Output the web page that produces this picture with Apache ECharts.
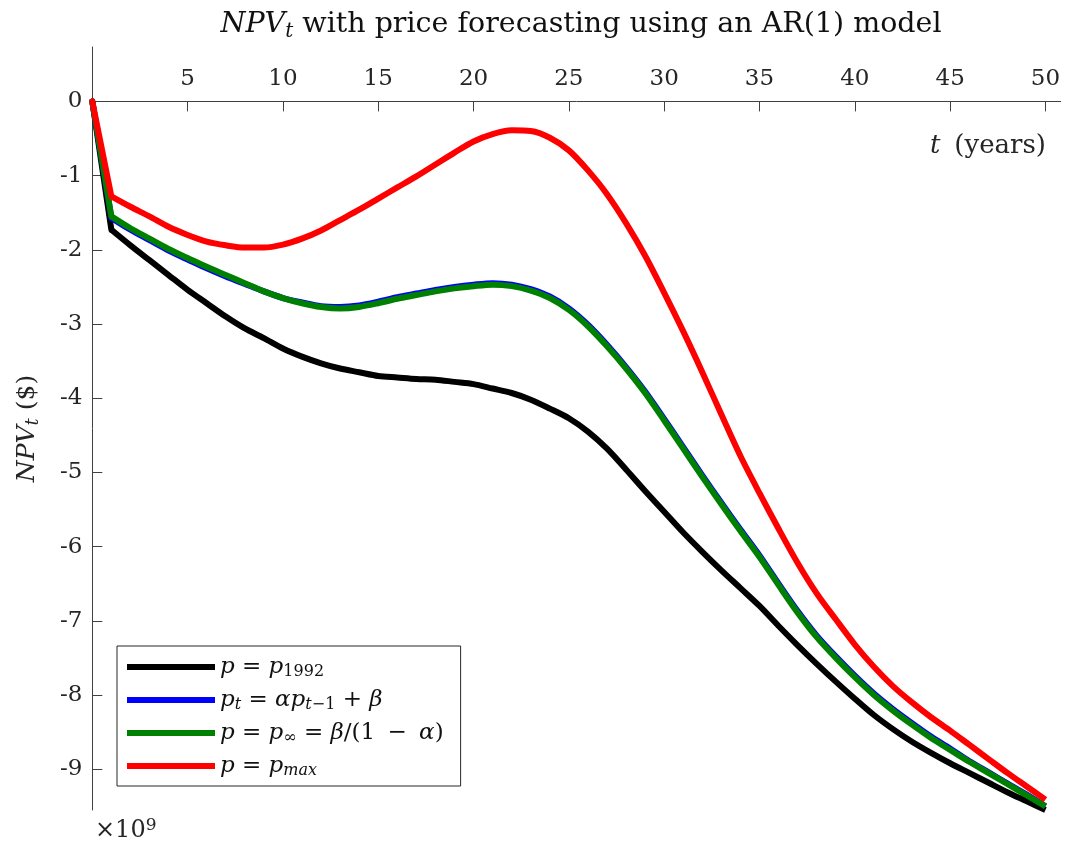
<!DOCTYPE html>
<html>
<head>
<meta charset="utf-8">
<script src="https://cdn.jsdelivr.net/npm/echarts@6/dist/echarts.min.js"></script>
<style>
  html, body { margin: 0; padding: 0; background: #ffffff; }
  #chart { width: 1066px; height: 841px; }
</style>
</head>
<body>
<div id="chart"></div>
<script>
// Time axis (years) and NPV_t values in units of 10^9 $
const years = [0, 1, 2, 3, 4, 5, 6, 7, 8, 9, 10, 11, 12, 13, 14, 15, 16, 17, 18, 19, 20,
  21, 22, 23, 24, 25, 26, 27, 28, 29, 30, 31, 32, 33, 34, 35, 36, 37, 38, 39, 40,
  41, 42, 43, 44, 45, 46, 47, 48, 49, 50];

// p = p_1992 (constant price)
const npvP1992 = [0, -1.73, -1.94, -2.14, -2.34, -2.54, -2.72, -2.90, -3.06, -3.19, -3.33,
  -3.44, -3.53, -3.60, -3.65, -3.70, -3.72, -3.74, -3.75, -3.78, -3.81,
  -3.87, -3.93, -4.02, -4.14, -4.27, -4.45, -4.68, -4.96, -5.25, -5.53,
  -5.81, -6.07, -6.32, -6.56, -6.80, -7.07, -7.33, -7.58, -7.82, -8.05,
  -8.27, -8.46, -8.63, -8.78, -8.92, -9.05, -9.18, -9.31, -9.43, -9.55];

// p_t = alpha p_{t-1} + beta (AR(1) forecast)
const npvAR1 = [0, -1.57, -1.73, -1.87, -2.01, -2.13, -2.25, -2.36, -2.46, -2.56, -2.65,
  -2.71, -2.76, -2.77, -2.75, -2.70, -2.64, -2.59, -2.54, -2.50, -2.47,
  -2.45, -2.47, -2.53, -2.63, -2.79, -3.01, -3.28, -3.58, -3.91, -4.28,
  -4.66, -5.04, -5.41, -5.77, -6.12, -6.50, -6.87, -7.20, -7.48, -7.74,
  -7.98, -8.19, -8.38, -8.56, -8.72, -8.89, -9.04, -9.19, -9.34, -9.50];

// p = p_inf = beta / (1 - alpha) (long-run price)
const npvSteady = [0, -1.55, -1.71, -1.85, -1.99, -2.11, -2.23, -2.34, -2.45, -2.56, -2.65,
  -2.72, -2.77, -2.79, -2.77, -2.72, -2.66, -2.61, -2.56, -2.52, -2.49,
  -2.47, -2.49, -2.55, -2.65, -2.81, -3.03, -3.30, -3.60, -3.93, -4.30,
  -4.68, -5.06, -5.43, -5.79, -6.14, -6.52, -6.89, -7.22, -7.50, -7.76,
  -8.00, -8.21, -8.40, -8.58, -8.74, -8.90, -9.05, -9.20, -9.35, -9.50];

// p = p_max (maximum price)
const npvMax = [0, -1.28, -1.42, -1.55, -1.69, -1.80, -1.89, -1.94, -1.97, -1.97, -1.93,
  -1.85, -1.74, -1.60, -1.46, -1.31, -1.16, -1.01, -0.85, -0.69, -0.54,
  -0.44, -0.39, -0.40, -0.49, -0.66, -0.93, -1.25, -1.64, -2.08, -2.58,
  -3.10, -3.65, -4.22, -4.78, -5.28, -5.76, -6.22, -6.63, -6.98, -7.32,
  -7.62, -7.88, -8.10, -8.30, -8.48, -8.67, -8.86, -9.05, -9.23, -9.41];

const xTicks = [5, 10, 15, 20, 25, 30, 35, 40, 45, 50];
const yTicks = [0, -1, -2, -3, -4, -5, -6, -7, -8, -9];

const seriesNames = ['p = p1992', 'pt = αpt−1 + β', 'p = p∞ = β/(1 − α)', 'p = pmax'];
const seriesColors = ['#000000', '#0000ff', '#008000', '#ff0000'];
const seriesValues = [npvP1992, npvAR1, npvSteady, npvMax];

// legend entries typeset with italic variables and subscripts
const legendLabels = {
  'p = p1992': '{i|p} = {i|p}{s|1992}',
  'pt = αpt−1 + β': '{i|p}{si|t} = {i|αp}{si|t}{s|−1} + {i|β}',
  'p = p∞ = β/(1 − α)': '{i|p} = {i|p}{s|∞} = {i|β}/(1 {o|−} {i|α})',
  'p = pmax': '{i|p} = {i|p}{si|max}'
};

const FONT = '"DejaVu Serif", "Liberation Serif", serif';
const INK = '#262626';
const AXIS = '#404040';

const chart = echarts.init(document.getElementById('chart'), null, { renderer: 'canvas' });

// Each curve: the first-year drop as a straight segment, then the smooth remainder
const series = [];
seriesValues.forEach((vals, k) => {
  const pts = years.map((t, i) => [t, vals[i]]);
  series.push({
    name: seriesNames[k] + ' (t0)',
    type: 'line',
    data: pts.slice(0, 2),
    symbol: 'none',
    smooth: false,
    color: seriesColors[k],
    lineStyle: { width: 6, color: seriesColors[k], cap: 'round' },
    z: 2 + k,
    silent: true
  });
  series.push({
    name: seriesNames[k],
    type: 'line',
    data: pts.slice(1),
    symbol: 'none',
    smooth: 0.3,
    color: seriesColors[k],
    lineStyle: { width: 6, color: seriesColors[k], join: 'round' },
    z: 2 + k
  });
});

chart.setOption({
  backgroundColor: '#ffffff',
  animation: false,
  title: [
    {
      text: '{i|NPV}{s|t} with price forecasting using an AR(1) model',
      left: 576, top: 3, textAlign: 'center',
      textStyle: {
        fontFamily: FONT, fontSize: 28.5, fontWeight: 'normal', color: '#111', lineHeight: 34,
        rich: {
          i: { fontFamily: FONT, fontSize: 28.5, fontStyle: 'italic', color: '#111', lineHeight: 34 },
          s: { fontFamily: FONT, fontSize: 20, fontStyle: 'italic', color: '#111', lineHeight: 16, verticalAlign: 'bottom' }
        }
      }
    },
    {
      text: '{i|t}(years)',
      right: 15, top: 126,
      textStyle: {
        fontFamily: FONT, fontSize: 26, fontWeight: 'normal', color: INK, lineHeight: 30,
        rich: { i: { fontFamily: FONT, fontSize: 26, fontStyle: 'italic', color: INK, lineHeight: 30, padding: [0, 14, 0, 0] } }
      }
    },
    {
      text: '×10{sup|9}',
      left: 90, top: 812,
      textStyle: {
        fontFamily: FONT, fontSize: 24, fontWeight: 'normal', color: INK, lineHeight: 28,
        rich: { sup: { fontFamily: FONT, fontSize: 17, color: INK, lineHeight: 16, verticalAlign: 'top' } }
      }
    }
  ],
  grid: { left: 92.3, top: 47, width: 968.4, height: 763, containLabel: false },
  xAxis: {
    type: 'value',
    position: 'top',
    offset: -54.4,
    min: 0, max: 50.8, interval: 5,
    axisLine: { show: true, onZero: false, lineStyle: { color: AXIS, width: 1 } },
    axisTick: { show: true, inside: true, length: 10, customValues: xTicks, lineStyle: { color: AXIS } },
    axisLabel: {
      customValues: xTicks, margin: 11,
      fontFamily: FONT, fontSize: 23, color: INK
    },
    splitLine: { show: false }
  },
  yAxis: {
    type: 'value',
    min: -9.55, max: 0.733,
    axisLine: { show: true, onZero: false, lineStyle: { color: AXIS, width: 1 } },
    axisTick: { show: true, inside: true, length: 10, customValues: yTicks, lineStyle: { color: AXIS } },
    axisLabel: {
      customValues: yTicks, margin: 10,
      fontFamily: FONT, fontSize: 23, color: INK,
      formatter: v => String(v)
    },
    splitLine: { show: false },
    name: '{i|NPV}{s|t} ($)',
    nameLocation: 'middle',
    nameGap: 50,
    nameRotate: 90,
    nameTextStyle: {
      fontFamily: FONT, fontSize: 25, color: INK, lineHeight: 30,
      rich: {
        i: { fontFamily: FONT, fontSize: 25, fontStyle: 'italic', color: INK, lineHeight: 30 },
        s: { fontFamily: FONT, fontSize: 18, fontStyle: 'italic', color: INK, lineHeight: 14, verticalAlign: 'bottom' }
      }
    }
  },
  legend: {
    orient: 'vertical',
    left: 117, top: 646,
    icon: 'rect',
    itemWidth: 88, itemHeight: 6, itemGap: 7,
    padding: [8, 17, 7, 10],
    borderColor: INK, borderWidth: 1, borderRadius: 0,
    backgroundColor: '#ffffff',
    data: seriesNames,
    formatter: name => legendLabels[name],
    textStyle: {
      fontFamily: FONT, fontSize: 23, color: '#111', lineHeight: 26,
      rich: {
        i: { fontFamily: FONT, fontSize: 23, fontStyle: 'italic', color: '#111', lineHeight: 26 },
        o: { fontFamily: FONT, fontSize: 23, color: '#111', lineHeight: 26, padding: [0, 5, 0, 5] },
        s: { fontFamily: FONT, fontSize: 16, color: '#111', lineHeight: 10, verticalAlign: 'bottom' },
        si: { fontFamily: FONT, fontSize: 16, fontStyle: 'italic', color: '#111', lineHeight: 10, verticalAlign: 'bottom' }
      }
    }
  },
  series: series
});
</script>
</body>
</html>
